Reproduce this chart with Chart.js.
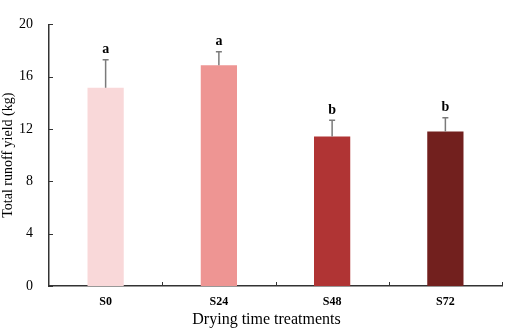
<!DOCTYPE html>
<html>
<head>
<meta charset="utf-8">
<script src="https://cdn.jsdelivr.net/npm/chart.js@4.4.0/dist/chart.umd.min.js"></script>
<style>
  html, body { margin: 0; padding: 0; background: #fff; }
  #wrap { width: 505px; height: 329px; }
</style>
</head>
<body>
<div id="wrap"><canvas id="chart"></canvas></div>
<script>
// data
const treatments = ['S0', 'S24', 'S48', 'S72'];
const runoff = [15.15, 16.88, 11.43, 11.81];
const runoffErr = [2.14, 1.02, 1.24, 1.05];
const letters = ['a', 'a', 'b', 'b'];
const barColors = ['#f9d8d9', '#ee9593', '#b03434', '#72201e'];

const serif = "'Times New Roman', 'Liberation Serif', serif";

// upward error bars, significance letters, inward tick marks and the x title
const extras = {
  id: 'extras',
  afterDatasetsDraw(chart) {
    const ctx = chart.ctx;
    const x = chart.scales.x, y = chart.scales.y;
    const meta = chart.getDatasetMeta(0);
    ctx.save();
    ctx.strokeStyle = '#7a7a7a';
    ctx.lineWidth = 1.5;
    meta.data.forEach((bar, i) => {
      const top = y.getPixelForValue(runoff[i] + runoffErr[i]);
      ctx.beginPath();
      ctx.moveTo(bar.x, bar.y);
      ctx.lineTo(bar.x, top);
      ctx.moveTo(bar.x - 3, top);
      ctx.lineTo(bar.x + 3, top);
      ctx.stroke();
      ctx.fillStyle = '#000';
      ctx.font = 'bold 14px ' + serif;
      ctx.textAlign = 'center';
      ctx.textBaseline = 'bottom';
      ctx.fillText(letters[i], bar.x, top - 3);
    });
    // tick marks
    ctx.strokeStyle = '#333';
    ctx.lineWidth = 1;
    ctx.beginPath();
    y.ticks.forEach(t => {
      const py = Math.round(y.getPixelForValue(t.value)) + 0.5;
      ctx.moveTo(x.left, py);
      ctx.lineTo(x.left + 4, py);
    });
    const half = (x.getPixelForValue(1) - x.getPixelForValue(0)) / 2;
    treatments.forEach((c, i) => {
      const px = Math.round(x.getPixelForValue(i) + half) + 0.5;
      ctx.moveTo(px, y.bottom);
      ctx.lineTo(px, y.bottom - 4);
    });
    ctx.stroke();
    // x axis title, sitting a little left of centre as in the original
    ctx.fillStyle = '#000';
    ctx.font = '16px ' + serif;
    ctx.textAlign = 'center';
    ctx.textBaseline = 'middle';
    ctx.fillText('Drying time treatments', (x.left + x.right) / 2 - 9, chart.height - 9);
    ctx.restore();
  }
};

new Chart(document.getElementById('chart'), {
  type: 'bar',
  data: {
    labels: treatments,
    datasets: [{
      data: runoff,
      backgroundColor: barColors,
      barPercentage: 0.32,
      categoryPercentage: 1
    }]
  },
  options: {
    responsive: true,
    maintainAspectRatio: false,
    animation: false,
    layout: { padding: { left: 0, right: 3, top: 6, bottom: 0 } },
    plugins: { legend: { display: false }, tooltip: { enabled: false } },
    scales: {
      x: {
        grid: { display: false, drawTicks: false },
        border: { color: '#333', width: 1.5 },
        ticks: { color: '#000', padding: 9, font: { family: serif, size: 12, weight: 'bold' } },
        afterFit(s) { s.height = 43; }
      },
      y: {
        min: 0,
        max: 20,
        grid: { display: false, drawTicks: false },
        border: { color: '#333', width: 1.5 },
        ticks: { stepSize: 4, color: '#000', padding: 16, font: { family: serif, size: 14 } },
        title: {
          display: true,
          text: 'Total runoff yield (kg)',
          color: '#000',
          padding: { top: 0, bottom: 0 },
          font: { family: serif, size: 14 }
        },
        afterFit(s) { s.width = 49; }
      }
    }
  },
  plugins: [extras]
});
</script>
</body>
</html>
